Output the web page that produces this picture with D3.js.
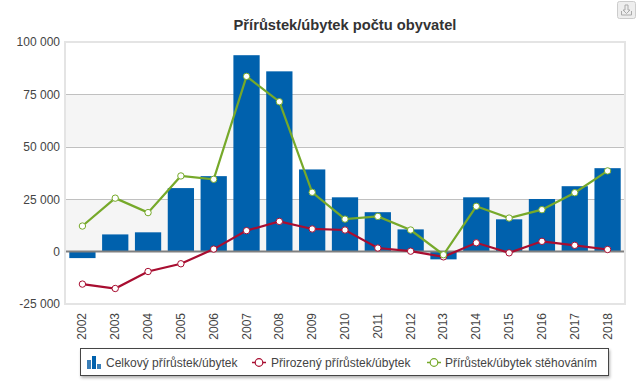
<!DOCTYPE html>
<html lang="cs">
<head>
<meta charset="utf-8">
<title>Přírůstek/úbytek počtu obyvatel</title>
<script src="https://cdn.jsdelivr.net/npm/d3@7"></script>
<style>
  html, body { margin: 0; padding: 0; background: #fff; }
  svg { display: block; font-family: "Liberation Sans", Arial, sans-serif; }
</style>
</head>
<body>
<div id="chart"></div>
<script>
const years = ["2002", "2003", "2004", "2005", "2006", "2007", "2008", "2009", "2010",
  "2011", "2012", "2013", "2014", "2015", "2016", "2017", "2018"];
const total = [-3100, 8200, 9200, 30300, 36000, 93700, 86000, 39200, 25900,
  18800, 10600, -3700, 25900, 15400, 25100, 31200, 39800];
const natural = [-15500, -17600, -9500, -5800, 1200, 10000, 14400, 10800, 10300,
  1700, 200, -2500, 4200, -600, 4900, 3000, 1000];
const migration = [12200, 25500, 18600, 36100, 34500, 83600, 71500, 28300, 15500,
  16800, 10300, -1500, 21600, 16000, 20000, 28100, 38500];
const yTicks = [-25000, 0, 25000, 50000, 75000, 100000];
const shadedBands = [[50000, 75000], [0, 25000]];
const legendLabels = ["Celkový přírůstek/úbytek", "Přirozený přírůstek/úbytek", "Přírůstek/úbytek stěhováním"];

const width = 640;
const height = 390;
const margin = { top: 42, right: 16, bottom: 86, left: 66 };
const BLUE = "#0061ad";
const RED = "#a80d30";
const GREEN = "#76a92a";
const TEXT = "#444";

const x = d3.scaleBand()
  .domain(years)
  .range([margin.left, width - margin.right])
  .paddingInner(0.2)
  .paddingOuter(0.1);

const y = d3.scaleLinear()
  .domain([-25000, 100000])
  .range([height - margin.bottom, margin.top]);

const fmt = (d) => d3.format(",")(d).replace(/,/g, " ").replace("−", "-");

const svg = d3.select("#chart")
  .append("svg")
  .attr("width", width)
  .attr("height", height)
  .attr("viewBox", `0 0 ${width} ${height}`);

const defs = svg.append("defs");
const shadow = defs.append("filter").attr("id", "legend-shadow")
  .attr("x", "-5%").attr("y", "-20%").attr("width", "110%").attr("height", "150%");
shadow.append("feDropShadow")
  .attr("dx", 1).attr("dy", 2).attr("stdDeviation", 1.6)
  .attr("flood-color", "#000").attr("flood-opacity", 0.3);

// Title
svg.append("text")
  .attr("x", 345)
  .attr("y", 30)
  .attr("text-anchor", "middle")
  .attr("font-size", 14.7)
  .attr("font-weight", 700)
  .attr("fill", "#333")
  .text("Přírůstek/úbytek počtu obyvatel");

// Plot bands
svg.append("g")
  .selectAll("rect")
  .data(shadedBands)
  .join("rect")
  .attr("x", margin.left)
  .attr("width", width - margin.left - margin.right)
  .attr("y", (d) => y(d[1]))
  .attr("height", (d) => y(d[0]) - y(d[1]))
  .attr("fill", "#f5f5f5");

// Gridlines
svg.append("g")
  .selectAll("line")
  .data(yTicks.filter((d) => d !== 0 && d !== 100000 && d !== -25000))
  .join("line")
  .attr("x1", margin.left)
  .attr("x2", width - margin.right)
  .attr("y1", (d) => Math.round(y(d)) + 0.5)
  .attr("y2", (d) => Math.round(y(d)) + 0.5)
  .attr("stroke", "#c0c0c0");

// Plot frame
svg.append("rect")
  .attr("x", margin.left - 1)
  .attr("y", margin.top)
  .attr("width", width - margin.left - margin.right + 2)
  .attr("height", height - margin.top - margin.bottom)
  .attr("fill", "none")
  .attr("stroke", "#e4e4e4")
  .attr("stroke-width", 2);

// Y axis
svg.append("g")
  .attr("transform", `translate(${margin.left},0)`)
  .call(d3.axisLeft(y).tickValues(yTicks).tickSize(0).tickPadding(6).tickFormat(fmt))
  .call((g) => g.select(".domain").remove())
  .call((g) => g.selectAll("text")
    .attr("font-size", 12)
    .attr("font-family", "Liberation Sans, Arial, sans-serif")
    .attr("fill", TEXT));

// X axis
svg.append("g")
  .attr("transform", `translate(0,${height - margin.bottom})`)
  .call(d3.axisBottom(x).tickSize(0))
  .call((g) => g.select(".domain").remove())
  .call((g) => g.selectAll("text")
    .attr("font-size", 12)
    .attr("font-family", "Liberation Sans, Arial, sans-serif")
    .attr("fill", TEXT)
    .attr("text-anchor", "end")
    .attr("dy", null)
    .attr("dominant-baseline", "central")
    .attr("transform", "translate(0,9) rotate(-90)")
    .attr("y", 0)
    .attr("x", 0));

// Bars
const totalRows = years.map((year, i) => ({ year, value: total[i] }));
svg.append("g")
  .selectAll("rect")
  .data(totalRows)
  .join("rect")
  .attr("x", (d) => x(d.year))
  .attr("width", x.bandwidth())
  .attr("y", (d) => y(Math.max(0, d.value)))
  .attr("height", (d) => Math.abs(y(d.value) - y(0)))
  .attr("fill", BLUE);

// Zero line
svg.append("line")
  .attr("x1", margin.left)
  .attr("x2", width - margin.right)
  .attr("y1", y(0))
  .attr("y2", y(0))
  .attr("stroke", "#808080")
  .attr("stroke-width", 2);

// Lines + markers
const line = d3.line()
  .x((d) => x(d.year) + x.bandwidth() / 2)
  .y((d) => y(d.value));

function drawSeries(values, color) {
  const rows = years.map((year, i) => ({ year, value: values[i] }));
  svg.append("path")
    .datum(rows)
    .attr("d", line)
    .attr("fill", "none")
    .attr("stroke", color)
    .attr("stroke-width", 2.2);
  svg.append("g")
    .selectAll("circle")
    .data(rows)
    .join("circle")
    .attr("cx", (d) => x(d.year) + x.bandwidth() / 2)
    .attr("cy", (d) => y(d.value))
    .attr("r", 3.2)
    .attr("fill", "#fff")
    .attr("stroke", color)
    .attr("stroke-width", 1);
}

drawSeries(natural, RED);
drawSeries(migration, GREEN);

// Legend
const legend = svg.append("g");
legend.append("rect")
  .attr("x", 80.5)
  .attr("y", 348.5)
  .attr("width", 528)
  .attr("height", 27)
  .attr("fill", "#fff")
  .attr("stroke", "#444")
  .attr("filter", "url(#legend-shadow)");

// small bar-chart icon for the column series
const iconHeights = [9, 13, 5];
const iconColors = ["#3a7fb8", "#0061ad", "#3a7fb8"];
legend.append("g")
  .selectAll("rect")
  .data(iconHeights)
  .join("rect")
  .attr("x", (d, i) => 87 + i * 5)
  .attr("y", (d) => 369 - d)
  .attr("width", 4)
  .attr("height", (d) => d)
  .attr("fill", (d, i) => iconColors[i]);

const legendText = (tx, label) => legend.append("text")
  .attr("x", tx)
  .attr("y", 367)
  .attr("font-size", 12)
  .attr("fill", TEXT)
  .text(label);

legendText(106, legendLabels[0]);
legendText(271, legendLabels[1]);
legendText(445, legendLabels[2]);

function legendMarker(cx, color) {
  legend.append("line")
    .attr("x1", cx - 7).attr("x2", cx + 7)
    .attr("y1", 362.5).attr("y2", 362.5)
    .attr("stroke", color).attr("stroke-width", 1.5);
  legend.append("circle")
    .attr("cx", cx).attr("cy", 362.5).attr("r", 3.8)
    .attr("fill", "#fff").attr("stroke", color).attr("stroke-width", 1.2);
}
legendMarker(259, RED);
legendMarker(434, GREEN);

// Export button, top right corner
const btn = svg.append("g");
btn.append("rect")
  .attr("x", 617.5).attr("y", 1.5)
  .attr("width", 18).attr("height", 17)
  .attr("rx", 2)
  .attr("fill", "#eee")
  .attr("stroke", "#ccc");
btn.append("path")
  .attr("d", "M621.5 11v4h10v-4M625 5h3v5h2l-3.5 3.5-3.5-3.5h2z")
  .attr("fill", "none")
  .attr("stroke", "#aaa");
</script>
</body>
</html>
